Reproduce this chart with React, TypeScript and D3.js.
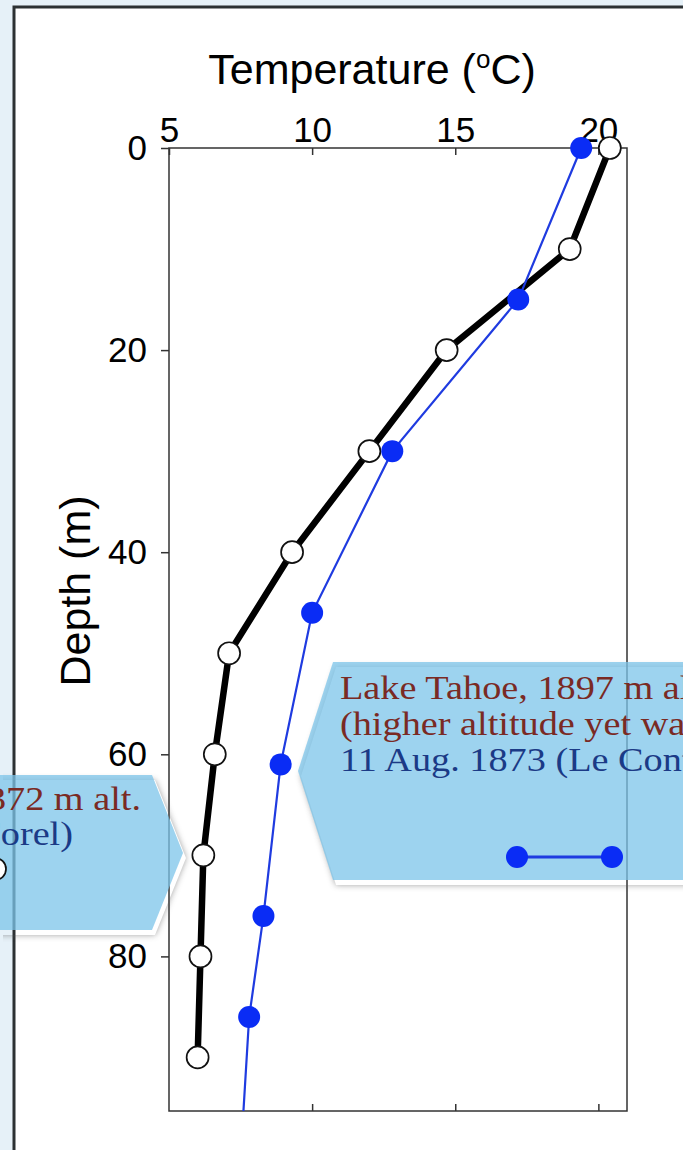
import React, { useEffect, useRef } from 'react';
import { axisBottom, axisLeft, axisTop, line, scaleLinear, select } from 'd3';

// Lake Geneva profile (open circles, thick black line)
const genevaDepth = [0, 10, 20, 30, 40, 50, 60, 70, 80, 90];
const genevaTemp = [20.4, 19.0, 14.7, 12.0, 9.3, 7.1, 6.6, 6.2, 6.1, 6.0];

// Lake Tahoe profile (filled blue circles), last point falls below the frame
const tahoeDepth = [0, 15, 30, 46, 61, 76, 86, 107];
const tahoeTemp = [19.4, 17.2, 12.8, 10.0, 8.9, 8.3, 7.8, 7.35];

const tempTicks = [5, 10, 15, 20];
const depthTicks = [0, 20, 40, 60, 80];
const bottomTicks = [10, 15, 20];

const genevaNote = ['Lake Geneva, 372 m alt.', 'Sept. 1879 (Forel)'];
const tahoeNote = ['Lake Tahoe, 1897 m alt.', '(higher altitude yet warmer)', '11 Aug. 1873 (Le Conte)'];

const W = 683, H = 1150;
const left = 169, right = 627, top = 148, bottom = 1111;

const x = scaleLinear().domain([5, 21]).range([left, right]);
const y = scaleLinear().domain([0, 95.3]).range([top, bottom]);

const BLUE = '#0a2cf5';
const RED = '#7a2a24';
const NAVY = '#1b3a86';
const SERIF = '"Liberation Serif", "DejaVu Serif", serif';
const SANS = '"Liberation Sans", Arial, sans-serif';

const rightCallout = '298,771 333,662 720,662 720,880 333,880';
const leftCallout = '-20,775 152,775 183,853 152,930 -20,930';

export default function App() {
  const topRef = useRef<SVGGElement>(null);
  const leftRef = useRef<SVGGElement>(null);
  const bottomRef = useRef<SVGGElement>(null);

  useEffect(() => {
    const style = (g: any) => {
      g.select('.domain').remove();
      g.attr('font-size', null).attr('font-family', null);
      g.selectAll('line').attr('stroke', '#333').attr('stroke-width', 1.5);
      g.selectAll('text').attr('font-size', 35).attr('font-family', SANS).attr('fill', '#000');
    };
    select(topRef.current)
      .call(axisTop(x).tickValues(tempTicks).tickSize(-7).tickPadding(6) as any)
      .call(style);
    select(leftRef.current)
      .call(axisLeft(y).tickValues(depthTicks).tickSize(8).tickPadding(14) as any)
      .call(style);
    select(bottomRef.current)
      .call(axisBottom(x).tickValues(bottomTicks).tickSize(-7).tickFormat(() => '') as any)
      .call(style);
  }, []);

  const genevaPts = genevaDepth.map((d, i) => [genevaTemp[i], d]);
  const tahoePts = tahoeDepth.map((d, i) => [tahoeTemp[i], d]);
  const path = line<number[]>().x((p) => x(p[0])).y((p) => y(p[1]));

  return (
    <svg width={W} height={H} style={{ position: 'absolute', left: 0, top: 0 }}>
      <defs>
        <clipPath id="plot">
          <rect x={left} y={top - 14} width={right - left + 14} height={bottom - top + 14} />
        </clipPath>
        <filter id="blur" x="-20%" y="-20%" width="140%" height="140%">
          <feGaussianBlur stdDeviation="3" />
        </filter>
        <mask id="mR">
          <rect x={0} y={0} width={W} height={H} fill="white" />
          <polygon points={rightCallout} fill="black" />
        </mask>
        <mask id="mL">
          <rect x={0} y={0} width={W} height={H} fill="white" />
          <polygon points={leftCallout} fill="black" />
        </mask>
      </defs>

      <rect x={0} y={0} width={W} height={H} fill="#e6f1f8" />
      <rect x={14} y={7} width={W + 20} height={H + 20} fill="#fff" stroke="#2c3133" strokeWidth={3} />

      {/* title and axis label */}
      <text x={372} y={84} textAnchor="middle" fontSize={43} fontFamily={SANS}>
        Temperature (<tspan fontSize={26} dy={-16}>o</tspan><tspan dy={16}>C)</tspan>
      </text>
      <text transform="translate(90,591) rotate(-90)" textAnchor="middle" fontSize={43} fontFamily={SANS}>
        Depth (m)
      </text>

      <rect x={left} y={top} width={right - left} height={bottom - top} fill="none" stroke="#333" strokeWidth={1.5} />
      <g ref={topRef} transform={`translate(0,${top})`} />
      <g ref={leftRef} transform={`translate(${left},0)`} />
      <g ref={bottomRef} transform={`translate(0,${bottom})`} />

      {/* Lake Geneva */}
      <path d={path(genevaPts) || ''} fill="none" stroke="#000" strokeWidth={6.5} strokeLinejoin="round" />
      {genevaPts.map((p, i) => (
        <circle key={i} cx={x(p[0])} cy={y(p[1])} r={11} fill="#fff" stroke="#111" strokeWidth={1.7} />
      ))}

      {/* Lake Tahoe */}
      <g clipPath="url(#plot)">
        <path d={path(tahoePts) || ''} fill="none" stroke="#1f3be0" strokeWidth={2.2} />
        {tahoePts.map((p, i) => (
          <circle key={i} cx={x(p[0])} cy={y(p[1])} r={11} fill={BLUE} />
        ))}
      </g>

      {/* callouts */}
      <polygon points={leftCallout} transform="translate(3,5)" fill="#555" opacity={0.55} filter="url(#blur)" mask="url(#mL)" />
      <polygon points={leftCallout} fill="#7cc4ea" fillOpacity={0.75} />
      <g fontSize={33} fontFamily={SERIF} textAnchor="end">
        <text transform="translate(141,810) scale(1.16,1)" fill={RED}>{genevaNote[0]}</text>
        <text transform="translate(73,845) scale(1.16,1)" fill={NAVY}>{genevaNote[1]}</text>
      </g>
      <line x1={-90} x2={-5} y1={869} y2={869} stroke="#000" strokeWidth={5} />
      <circle cx={-90} cy={869} r={11} fill="#fff" stroke="#111" strokeWidth={1.7} />
      <circle cx={-5} cy={869} r={11} fill="#fff" stroke="#111" strokeWidth={1.7} />

      <polygon points={rightCallout} transform="translate(3,5)" fill="#555" opacity={0.55} filter="url(#blur)" mask="url(#mR)" />
      <polygon points={rightCallout} fill="#7cc4ea" fillOpacity={0.75} />
      <g fontSize={33} fontFamily={SERIF}>
        {tahoeNote.map((t, i) => (
          <text key={i} transform={`translate(340,${699 + i * 36}) scale(1.16,1)`} fill={i < 2 ? RED : NAVY}>{t}</text>
        ))}
      </g>
      <line x1={517} x2={612} y1={857} y2={857} stroke="#1f3be0" strokeWidth={3} />
      <circle cx={517} cy={857} r={11} fill={BLUE} />
      <circle cx={612} cy={857} r={11} fill={BLUE} />
    </svg>
  );
}
